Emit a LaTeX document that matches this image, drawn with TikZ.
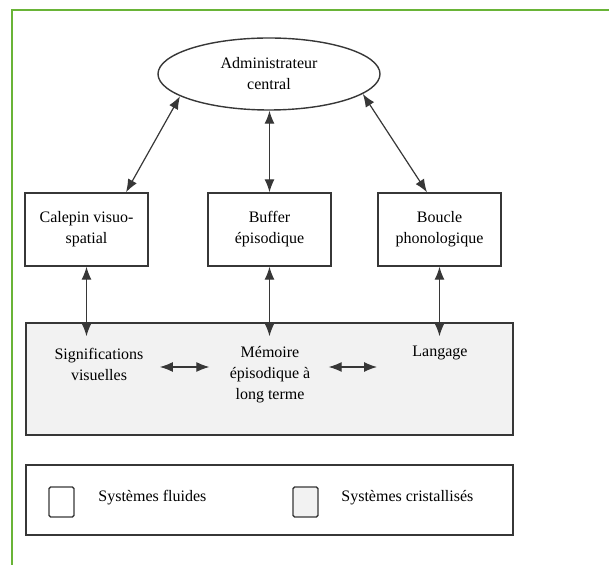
\documentclass[tikz,border=0pt]{standalone}
\usepackage{fontspec}
\setmainfont{Liberation Serif}
\usepackage{xcolor}
\usetikzlibrary{shapes.geometric,arrows.meta}

\definecolor{framegreen}{RGB}{105,180,55}
\definecolor{linegray}{RGB}{55,55,55}
\definecolor{crystal}{RGB}{242,242,242}

\tikzset{
  txt/.style={font=\rmfamily\fontsize{8}{10.5}\selectfont, align=center, inner sep=2pt},
  module/.style={txt, draw=linegray, line width=0.7pt, minimum width=61.5pt, minimum height=36.5pt, anchor=center},
  bigbox/.style={draw=linegray, line width=0.7pt, minimum width=243.5pt, inner sep=0pt},
  swatch/.style={draw=linegray, line width=0.7pt, minimum width=12.5pt, minimum height=15pt, inner sep=0pt, rounded corners=0.8pt},
  dblarrow/.style={{Latex[length=6.5pt,width=5pt]}-{Latex[length=6.5pt,width=5pt]}, line width=0.6pt, linegray}
}

\begin{document}
\begin{tikzpicture}[x=0.5pt,y=-0.5pt]
  \useasboundingbox (0,0) rectangle (609,565);
  % green frame
  \draw[framegreen, line width=0.8pt] (609,10) -- (12,10) -- (12,565);

  % central executive
  \node[ellipse, draw=linegray, line width=0.7pt, minimum width=111pt, minimum height=36pt, inner sep=0pt, txt] (admin) at (269,74) {Administrateur\\central};

  % slave systems
  \node[module] (calepin) at (86.5,229.5) {Calepin visuo-\\spatial};
  \node[module] (buffer) at (269.5,229.5) {Buffer\\épisodique};
  \node[module] (boucle) at (439.5,229.5) {Boucle\\phonologique};

  % crystallised systems
  \node[bigbox, fill=crystal, minimum height=56pt] (cristal) at (269.5,379) {};
  \node[txt] (signif) at (99,364) {Significations\\visuelles};
  \node[txt] (memoire) at (270,375) {Mémoire\\épisodique à\\long terme};
  \node[txt] (langage) at (440,353) {Langage};

  % arrows
  \draw[dblarrow] ([xshift=19.75pt]calepin.north) -- (admin.194);
  \draw[dblarrow] (buffer.north) -- (buffer.north |- admin.south);
  \draw[dblarrow] ([xshift=-6.25pt]boucle.north) -- (admin.348);
  \draw[dblarrow] (calepin.south) -- ([yshift=-7pt]calepin.south |- cristal.north);
  \draw[dblarrow] (buffer.south) -- ([yshift=-7pt]buffer.south |- cristal.north);
  \draw[dblarrow] (boucle.south) -- ([yshift=-7pt]boucle.south |- cristal.north);
  \draw[dblarrow, shorten <=6pt, shorten >=8pt] ([yshift=-1.5pt]signif.east) -- ([yshift=-1.5pt]signif.east -| memoire.west);
  \draw[dblarrow, shorten <=7pt, shorten >=15.5pt] ([yshift=4pt]memoire.east) -- ([yshift=4pt]memoire.east -| langage.west);

  % legend
  \node[bigbox, minimum height=35pt] (legende) at (269.5,500) {};
  \node[swatch] (fluide) at (61.5,502) {};
  \node[txt, anchor=west] (fluidetxt) at (94,498) {Systèmes fluides};
  \node[swatch, fill=crystal] (cristalsw) at (305.5,502) {};
  \node[txt, anchor=west] (cristaltxt) at (337,498) {Systèmes cristallisés};
\end{tikzpicture}
\end{document}
